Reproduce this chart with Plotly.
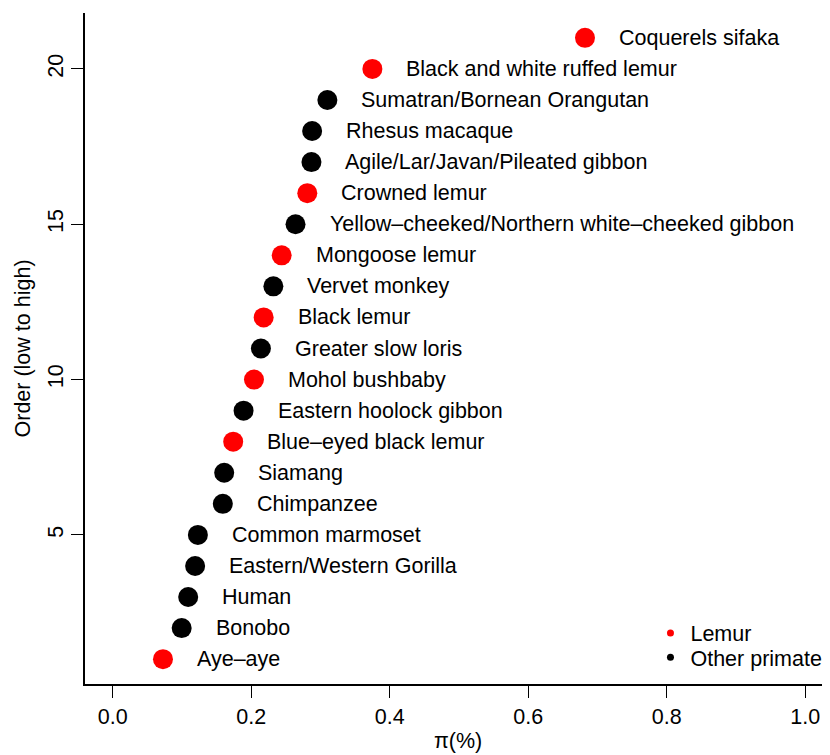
import plotly.graph_objects as go

species = ["Aye–aye", "Bonobo", "Human", "Eastern/Western Gorilla", "Common marmoset",
           "Chimpanzee", "Siamang", "Blue–eyed black lemur", "Eastern hoolock gibbon",
           "Mohol bushbaby", "Greater slow loris", "Black lemur", "Vervet monkey",
           "Mongoose lemur", "Yellow–cheeked/Northern white–cheeked gibbon", "Crowned lemur",
           "Agile/Lar/Javan/Pileated gibbon", "Rhesus macaque", "Sumatran/Bornean Orangutan",
           "Black and white ruffed lemur", "Coquerels sifaka"]
pi_values = [0.0726, 0.0996, 0.109, 0.119, 0.123, 0.159, 0.161, 0.174, 0.189, 0.204,
             0.214, 0.218, 0.232, 0.244, 0.264, 0.281, 0.287, 0.288, 0.310, 0.375, 0.682]
order = list(range(1, 22))
is_lemur = [True, False, False, False, False, False, False, True, False, True,
            False, True, False, True, False, True, False, False, False, True, True]
x_ticks = [0.0, 0.2, 0.4, 0.6, 0.8, 1.0]
y_ticks = [5, 10, 15, 20]

FONT = "Liberation Sans, Arial, Helvetica, sans-serif"
FS = 21.5
colors = ["#ff0000" if l else "#000000" for l in is_lemur]

fig = go.Figure()
fig.add_trace(go.Scatter(x=pi_values, y=order, mode="markers",
                         marker=dict(size=20, color=colors, line=dict(width=0)),
                         showlegend=False, hoverinfo="skip"))
fig.add_trace(go.Scatter(x=[None], y=[None], mode="markers", name="Lemur",
                         marker=dict(size=7, color="#ff0000"), legend="legend"))
fig.add_trace(go.Scatter(x=[None], y=[None], mode="markers", name="Other primate",
                         marker=dict(size=7, color="#000000"), legend="legend2"))

for name, xv, yv in zip(species, pi_values, order):
    fig.add_annotation(x=xv, y=yv, text=name, showarrow=False, xanchor="left",
                       yanchor="middle", xshift=32, font=dict(size=FS, color="black", family=FONT))

# axis titles
fig.add_annotation(x=0.5, y=0, xref="paper", yref="paper", yshift=-57, text="π(%)",
                   showarrow=False, xanchor="center", yanchor="middle", font=dict(size=FS))
fig.add_annotation(x=0, y=0.5, xref="paper", yref="paper", xshift=-63, text="Order (low to high)",
                   textangle=-90, showarrow=False, xanchor="center", yanchor="middle",
                   font=dict(size=FS))

leg_common = dict(xanchor="left", yanchor="middle", bgcolor="rgba(0,0,0,0)",
                  font=dict(size=FS), borderwidth=0)
# page body has an 8px margin: figure sized 822x747 so it fills the 830x755 window
fig.update_layout(
    width=822, height=747,
    margin=dict(l=77, r=0, t=5, b=71),
    paper_bgcolor="white", plot_bgcolor="white",
    font=dict(family=FONT, size=FS, color="black"),
    legend=dict(x=0.759, y=0.076, **leg_common),
    legend2=dict(x=0.759, y=0.040, **leg_common),
    xaxis=dict(range=[-0.04, 1.0358], tickvals=x_ticks, tickformat=".1f",
               showline=True, linecolor="black", linewidth=1.5, mirror=False,
               ticks="outside", ticklen=12, tickwidth=1.2, tickcolor="black",
               showgrid=False, zeroline=False, automargin=False),
    yaxis=dict(range=[0.2, 21.8], tickvals=y_ticks, tickangle=-90,
               showline=True, linecolor="black", linewidth=1.5,
               ticks="outside", ticklen=12, tickwidth=1.2, tickcolor="black",
               showgrid=False, zeroline=False, automargin=False),
)

fig.write_html("out.html")
